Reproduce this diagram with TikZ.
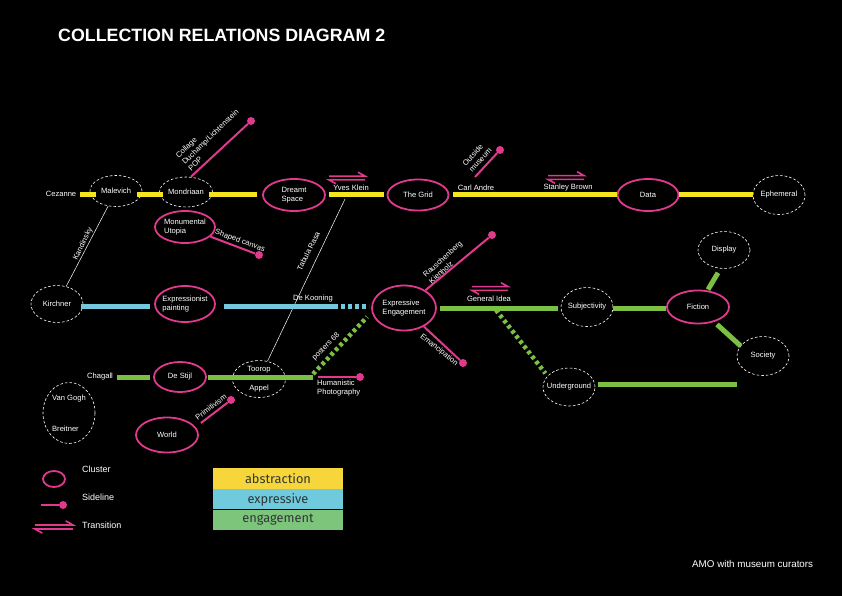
\documentclass[tikz,border=0pt]{standalone}
\usepackage{fontspec}
\setmainfont{Liberation Sans}
\newfontfamily\legfont{Fira Sans}
\usetikzlibrary{shapes.geometric}
\definecolor{yel}{HTML}{F4E51E}
\definecolor{blu}{HTML}{74C8DD}
\definecolor{grn}{HTML}{7CC043}
\definecolor{mag}{HTML}{E03A8D}
\definecolor{boxyel}{HTML}{F6D63A}
\definecolor{boxblu}{HTML}{6FCADE}
\definecolor{boxgrn}{HTML}{7DC57B}
\definecolor{boxtxt}{HTML}{2E3636}
\begin{document}
\begin{tikzpicture}[x=1pt,y=-1pt,
  txt/.style={text=white,font=\fontsize{7.6}{9}\selectfont,inner sep=0pt},
  cluster/.style={ellipse,draw=mag,line width=1.8pt,text=white,font=\fontsize{7.6}{9}\selectfont,align=left,inner xsep=-8pt,inner ysep=-4pt},
  soft/.style={ellipse,draw=white,line width=0.6pt,dash pattern=on 2.6pt off 2pt,text=white,font=\fontsize{7.6}{9}\selectfont,align=left,inner xsep=-8pt,inner ysep=-4pt},
  sz/.style 2 args={minimum width=#1pt,minimum height=#2pt},
  absline/.style={draw=yel,line width=5pt},
  expline/.style={draw=blu,line width=5pt},
  engline/.style={draw=grn,line width=5pt},
  expdots/.style={draw=blu,line width=5pt,dash pattern=on 4pt off 3pt},
  engdots/.style={draw=grn,line width=4.5pt,dash pattern=on 3.5pt off 3pt},
  thinline/.style={draw=white,line width=0.5pt},
  sideline/.style={draw=mag,line width=2pt},
  sdot/.style={circle,fill=mag,inner sep=0pt,minimum size=8pt},
  legtxt/.style={text=white,font=\fontsize{9}{11}\selectfont,inner sep=0pt,anchor=west},
  boxtext/.style={text=boxtxt,font=\legfont\fontsize{12.8}{14}\selectfont,inner sep=0pt},
  transsym/.pic={
    \draw[mag,line width=1.6pt] (-18,-1.9) -- (18,-1.9) -- (11,-5.8);
    \draw[mag,line width=1.6pt] (18,1.9) -- (-18,1.9) -- (-11,5.8);
  }
]
\useasboundingbox (0,0) rectangle (842,596);
\fill[black] (0,0) rectangle (842,596);

% title and credit
\node[text=white,font=\bfseries\fontsize{17.8}{20}\selectfont,inner sep=0pt,anchor=west] (title) at (58,35) {COLLECTION RELATIONS DIAGRAM 2};
\node[text=white,font=\fontsize{9.8}{12}\selectfont,inner sep=0pt,anchor=west] (credit) at (692,564) {AMO with museum curators};

% row coordinates
\coordinate (rowY) at (0,194);
\coordinate (rowB) at (0,306);
\coordinate (rowG) at (0,308);
\coordinate (rowL) at (0,377);
\coordinate (rowU) at (0,384);

% abstraction row
\node[txt] (cez) at (61,194) {Cezanne};
\node[soft,sz={52}{31}] (mal) at (116,191) {Malevich};
\node[soft,sz={53}{30}] (mon) at (186,192) {Mondriaan};
\node[cluster,sz={62}{32}] (dream) at (294,195) {Dreamt\\Space};
\node[txt] (yves) at (351,188) {Yves Klein};
\node[cluster,sz={61}{31}] (grid) at (418,195) {The Grid};
\node[txt] (carl) at (476,188) {Carl Andre};
\node[txt] (stan) at (568,188) {Stanley Brown};
\node[cluster,sz={61}{32}] (data) at (648,195) {Data};
\node[soft,sz={52}{39}] (eph) at (779,195) {Ephemeral};
\node[cluster,sz={60}{32}] (mono) at (185,227) {Monumental\\Utopia};

% expressive row
\node[soft,sz={52}{37}] (kir) at (57,304) {Kirchner};
\node[cluster,sz={60}{36}] (expr) at (185,304) {Expressionist\\painting};
\node[txt] (dek) at (313,299) {De Kooning};
\node[cluster,sz={64}{45}] (ee) at (404,308) {Expressive\\Engagement};

% engagement rows
\node[txt] (gen) at (489,299) {General Idea};
\node[soft,sz={52}{39}] (subj) at (587,307) {Subjectivity};
\node[cluster,sz={62}{33}] (fic) at (698,307) {Fiction};
\node[soft,sz={52}{37}] (disp) at (724,250) {Display};
\node[soft,sz={52}{39}] (soc) at (763,356) {Society};
\node[soft,sz={52}{38}] (und) at (569,387) {Underground};
\node[txt] (cha) at (100,377) {Chagall};
\node[cluster,sz={52}{30}] (stijl) at (180,377) {De Stijl};
\node[soft,sz={53}{37},align=center] (toor) at (259,379) {Toorop\\[10pt]Appel};
\node[soft,sz={52}{61}] (vgb) at (69,413) {Van Gogh\\[22pt]Breitner};
\node[cluster,sz={62}{35}] (world) at (167,435) {World};
\node[txt,align=left,anchor=north west] (hum) at (317,380) {Humanistic\\Photography};

% free coordinates
\coordinate (tabtop) at (345,199);
\coordinate (omstart) at (475,177);
\coordinate (gi) at (496,310);
\coordinate (gend) at (313,377);

% sideline dots
\node[sdot] (d1) at (251,121) {};
\node[sdot] (d2) at (259,255) {};
\node[sdot] (d3) at (500,150) {};
\node[sdot] (d4) at (492,235) {};
\node[sdot] (d5) at (463,363) {};
\node[sdot] (d6) at (360,377) {};
\node[sdot] (d7) at (231,400) {};

% thin connectors
\draw[thinline] (mal) -- (kir);
\draw[thinline] (tabtop) -- (toor);

% yellow line
\draw[absline] ([xshift=4pt]cez.east |- rowY) -- ([xshift=6pt]mal.west |- rowY);
\draw[absline] ([xshift=-5pt]mal.east |- rowY) -- ([xshift=4pt]mon.west |- rowY);
\draw[absline] ([xshift=-4pt]mon.east |- rowY) -- ([xshift=-5pt]dream.west |- rowY);
\draw[absline] ([xshift=3pt]dream.east |- rowY) -- ([xshift=-3pt]grid.west |- rowY);
\draw[absline] ([xshift=4pt]grid.east |- rowY) -- (data.west |- rowY);
\draw[absline] (data.east |- rowY) -- (eph.west |- rowY);

% blue line
\draw[expline] ([xshift=-2pt]kir.east |- rowB) -- ([xshift=-4pt]expr.west |- rowB);
\draw[expline] ([xshift=8pt]expr.east |- rowB) -- ([xshift=-33pt]ee.west |- rowB);
\draw[expdots] ([xshift=-30pt]ee.west |- rowB) -- ([xshift=-2pt]ee.west |- rowB);

% green lines
\draw[engline] ([xshift=3pt]ee.east |- rowG) -- ([xshift=-3pt]subj.west |- rowG);
\draw[engline] (subj.east |- rowG) -- (fic.west |- rowG);
\draw[engline] ([xshift=10pt]fic.north) -- ([xshift=-6pt,yshift=-4pt]disp.south);
\draw[engline] ([xshift=19pt]fic.south) -- ([xshift=4pt,yshift=10pt]soc.west);
\draw[engdots] (gi) -- ([xshift=-5pt]und.north west);
\draw[engline] ([xshift=3pt]und.east |- rowU) -- (soc.west |- rowU);
\draw[engline] ([xshift=4pt]cha.east |- rowL) -- ([xshift=-3pt]stijl.west |- rowL);
\draw[engline] ([xshift=1pt]stijl.east |- rowL) -- (gend);
\draw[engdots] ([yshift=3pt]gend) -- ([xshift=-4pt,yshift=-9pt]ee.west);

% sidelines
\draw[sideline] ([xshift=5pt]mon.north) -- (d1);
\draw[sideline] (mono) -- (d2);
\draw[sideline] (omstart) -- (d3);
\draw[sideline] (ee) -- (d4);
\draw[sideline] (ee) -- (d5);
\draw[sideline] ([xshift=5pt]gend) -- (d6);
\draw[sideline] ([xshift=2pt,yshift=12pt]world.east) -- (d7);

% rotated labels
\node[txt,rotate=44,anchor=west,align=left] (collage) at (183,163) {Collage\\Duchamp/Lichtenstein\\POP};
\node[txt,rotate=-20] (shaped) at (240,241) {Shaped canvas};
\node[txt,rotate=64] (kand) at (83,244) {Kandinsky};
\node[txt,rotate=63.6] (tab) at (308.5,251) {Tabula Rasa};
\node[txt,rotate=47,align=left] (outm) at (477,157) {Outside\\museum};
\node[txt,rotate=42,anchor=west,align=left] (rau) at (427,279) {Rauschenberg\\Kienholz};
\node[txt,rotate=-39] (eman) at (439,350) {Emancipation};
\node[txt,rotate=45] (post) at (326,347) {posters 68};
\node[txt,rotate=37] (prim) at (211,407) {Primitivism};

% transition symbols
\pic at (347,178) {transsym};
\pic at (566,177.5) {transsym};
\pic at (490,288.5) {transsym};

% legend
\node[ellipse,draw=mag,line width=1.8pt,minimum width=22pt,minimum height=16pt,inner sep=0pt] (lcl) at (54,479) {};
\node[legtxt] (lcltxt) at (82,469) {Cluster};
\coordinate (lsl) at (41,505);
\node[sdot] (ld) at (63,505) {};
\draw[sideline] (lsl) -- (ld);
\node[legtxt] (lsltxt) at (82,497) {Sideline};
\pic[scale=1.06] at (54,527) {transsym};
\node[legtxt] (ltrtxt) at (82,525) {Transition};

% colour key
\node[fill=boxyel,minimum width=130pt,minimum height=21pt,inner sep=0pt,boxtext] (kab) at (278,478.5) {abstraction};
\node[fill=boxblu,minimum width=130pt,minimum height=20pt,inner sep=0pt,boxtext,anchor=north] (kex) at (kab.south) {expressive};
\node[fill=boxgrn,minimum width=130pt,minimum height=20pt,inner sep=0pt,boxtext,anchor=north] (ken) at (kex.south) {engagement};
\end{tikzpicture}
\end{document}
